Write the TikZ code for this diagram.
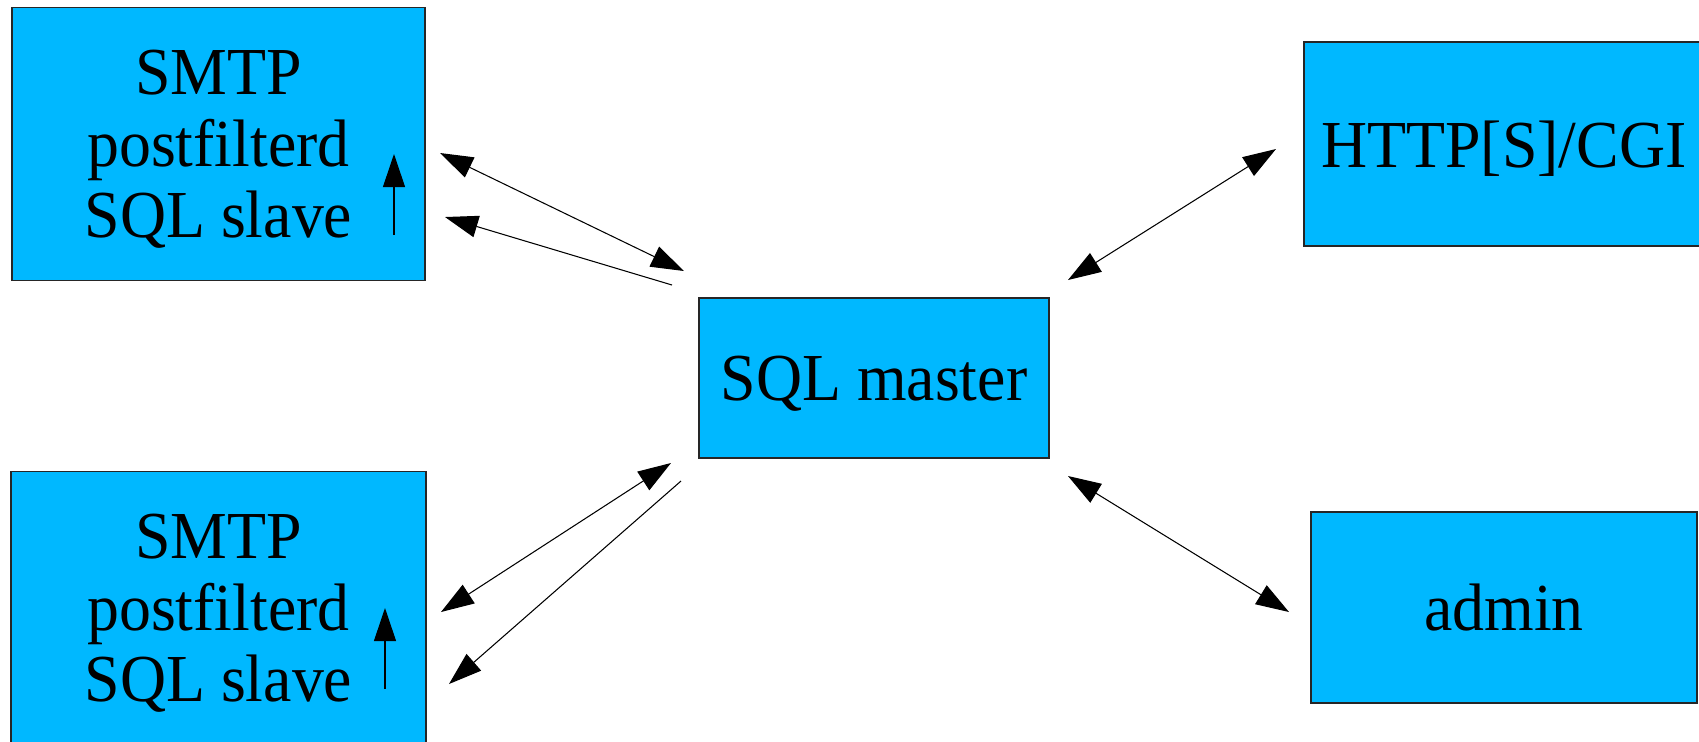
\documentclass[tikz,border=0pt]{standalone}
\usepackage{fontspec}
\setmainfont{Liberation Serif}[FakeStretch=0.95]
\usetikzlibrary{arrows.meta}
\definecolor{skyblue}{RGB}{0,184,255}
\begin{document}
\begin{tikzpicture}[x=0.01cm, y=-0.01cm, line width=0.3pt,
    >={Triangle[length=0.33cm, width=0.22cm]},
    box/.style={draw=black!85, line width=0.4pt, fill=skyblue, inner sep=0pt,
      align=center, text depth=0pt, font=\fontsize{19.1}{20.3}\selectfont}]
  \useasboundingbox (0,0) rectangle (1699,741);
  % the five boxes (right and bottom ones run off the page)
  \node[box, minimum width=4.13cm, minimum height=2.725cm] (slaveA) at (218.5,144)
    {SMTP\\postfilterd\\SQL slave};
  \node[box, minimum width=4.15cm, minimum height=2.725cm] (slaveB) at (218.5,608)
    {SMTP\\postfilterd\\SQL slave};
  \node[box, minimum width=3.5cm, minimum height=1.6cm] (master) at (874,378) {SQL master};
  \node[box, minimum width=4.0cm, minimum height=2.04cm] (http) at (1504,144) {HTTP[S]/CGI};
  \node[box, minimum width=3.86cm, minimum height=1.91cm] (admin) at (1504,607.5) {admin};
  % free ends of the connectors
  \coordinate (sa1) at (440,153);  \coordinate (ma1) at (684,271);
  \coordinate (sa2) at (445,217);  \coordinate (ma2) at (672,285);
  \coordinate (sb1) at (441,612);  \coordinate (mb1) at (671,463);
  \coordinate (sb2) at (449,684);  \coordinate (mb2) at (681,481);
  \coordinate (hw) at (1276,149);  \coordinate (mh) at (1068,280);
  \coordinate (ad) at (1289,612);  \coordinate (md) at (1068,476);
  \coordinate (ua0) at (394,235);  \coordinate (ua1) at (394,154);
  \coordinate (ub0) at (385,689);  \coordinate (ub1) at (385,608);
  % master <-> slaves
  \draw[<->] (sa1) -- (ma1);
  \draw[->] (ma2) -- (sa2);
  \draw[<->] (mb1) -- (sb1);
  \draw[->] (mb2) -- (sb2);
  % master <-> web and admin
  \draw[<->] (mh) -- (hw);
  \draw[<->] (md) -- (ad);
  % small up arrows inside the slave boxes
  \draw[->] (ua0) -- (ua1);
  \draw[->] (ub0) -- (ub1);
\end{tikzpicture}
\end{document}
